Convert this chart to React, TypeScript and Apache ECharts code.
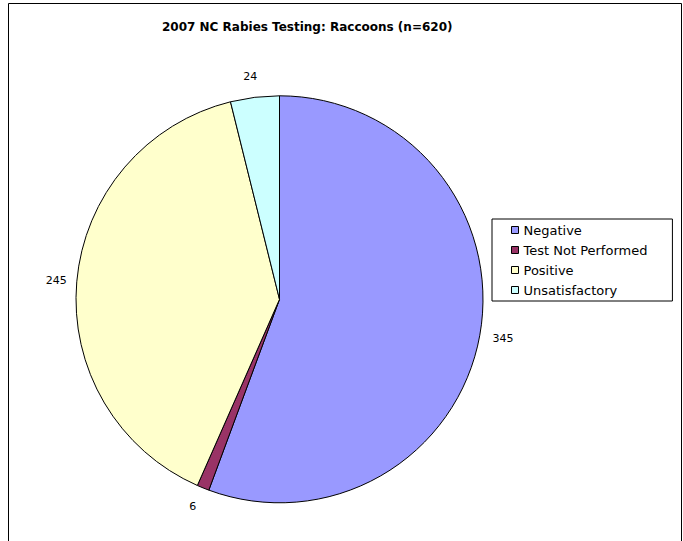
import React, { useEffect, useRef } from "react";
import * as echarts from "echarts";

const categories = ["Negative", "Test Not Performed", "Positive", "Unsatisfactory"];
const values = [345, 6, 245, 24];
const colors = ["#9999FF", "#993366", "#FFFFCC", "#CCFFFF"];
const titleText = "2007 NC Rabies Testing: Raccoons (n=620)";
// small per-label nudges (padding) to mimic Excel's label placement
const labelPadding = [
  [2, 0, 0, 6],
  [0, 5, 3, 0],
  [0, 0, 0, 0],
  [8, 4, 0, 0],
];

const FONT = "'DejaVu Sans', Verdana, sans-serif";

export default function App() {
  const ref = useRef<HTMLDivElement>(null);
  useEffect(() => {
    if (!ref.current) return;
    const chart = echarts.init(ref.current, undefined, { renderer: "svg" });
    const data = categories.map((name, i) => ({
      name,
      value: values[i],
      itemStyle: { color: colors[i] },
    }));
    const labelData = categories.map((name, i) => ({
      name,
      value: values[i],
      label: { padding: labelPadding[i] },
    }));
    chart.setOption({
      animation: false,
      backgroundColor: "#ffffff",
      title: {
        text: titleText,
        left: 162,
        top: 21,
        padding: 0,
        textStyle: { fontFamily: FONT, fontSize: 12, fontWeight: "bold", color: "#000" },
      },
      legend: {
        orient: "vertical",
        left: 492,
        top: 219,
        padding: [4, 25, 4, 19],
        itemWidth: 7,
        itemHeight: 7,
        itemGap: 6,
        borderColor: "#000",
        borderWidth: 1,
        backgroundColor: "#fff",
        data: categories,
        icon: "rect",
        itemStyle: { borderColor: "#000", borderWidth: 1 },
        textStyle: { fontFamily: FONT, fontSize: 13, color: "#000", lineHeight: 14 },
        selectedMode: false,
      },
      graphic: [
        {
          type: "rect",
          shape: { x: 8.5, y: 3.5, width: 673, height: 600 },
          style: { fill: "none", stroke: "#000", lineWidth: 1 },
          silent: true,
          z: -1,
        },
      ],
      series: [
        {
          type: "pie",
          center: [279.5, 299.3],
          radius: 203.5,
          startAngle: 90,
          clockwise: true,
          data,
          itemStyle: { borderColor: "#000", borderWidth: 1 },
          label: { show: false },
          labelLine: { show: false },
          emphasis: { disabled: true },
          silent: true,
        },
        {
          type: "pie",
          center: [279.5, 299.3],
          radius: [200, 242],
          startAngle: 90,
          clockwise: true,
          data: labelData,
          itemStyle: { color: "rgba(0,0,0,0)", borderWidth: 0 },
          label: {
            show: true,
            position: "inside",
            rotate: 0,
            formatter: "{c}",
            fontFamily: FONT,
            fontSize: 11,
            color: "#000",
          },
          labelLine: { show: false },
          emphasis: { disabled: true },
          silent: true,
          legendHoverLink: false,
        },
      ],
    });
    return () => chart.dispose();
  }, []);
  return (
    <div
      ref={ref}
      style={{ position: "fixed", left: 0, top: 0, width: 683, height: 541 }}
    />
  );
}
